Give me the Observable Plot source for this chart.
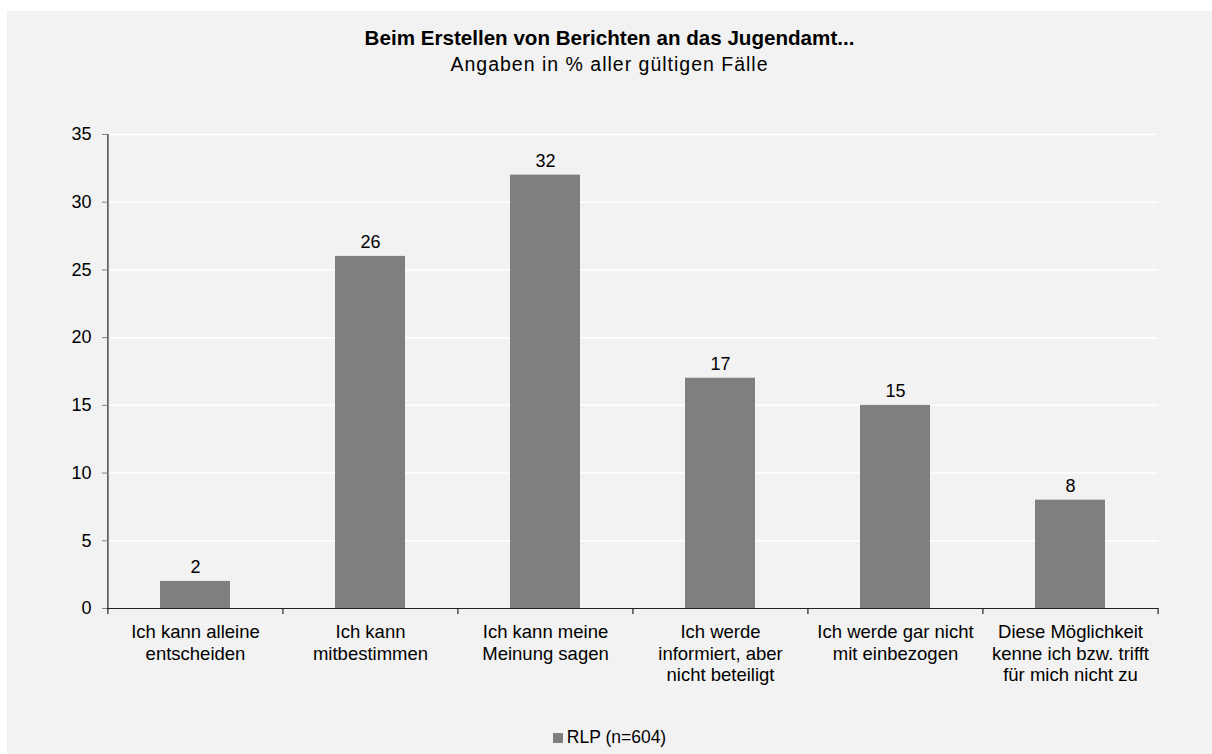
<!DOCTYPE html>
<html>
<head>
<meta charset="utf-8">
<script src="https://cdn.jsdelivr.net/npm/d3@7"></script>
<script src="https://cdn.jsdelivr.net/npm/@observablehq/plot@0.6"></script>
<style>
  html, body { margin: 0; padding: 0; background: #ffffff; }
  #panel { position: absolute; left: 7px; top: 11px; width: 1205px; height: 743px; background: #f2f2f2; font-family: "Liberation Sans", Arial, sans-serif; color: #000; }
  #title { position: absolute; left: 0; width: 1205px; top: 16px; text-align: center; font-family: "Liberation Sans", sans-serif; font-weight: bold; font-size: 20.6px; line-height: 22px; }
  #subtitle { position: absolute; left: 0; width: 1205px; top: 42px; text-align: center; font-size: 19.5px; letter-spacing: 1px; line-height: 22px; }
  #chart { position: absolute; left: 0; top: 79px; }
  #legend { position: absolute; left: 0; width: 1205px; top: 715px; text-align: center; font-size: 17.5px; line-height: 22px; }
  #legend .sw { display: inline-block; width: 10px; height: 10px; background: #7f7f7f; margin-right: 4px; vertical-align: 0px; }
</style>
</head>
<body>
<div id="panel">
  <div id="title">Beim Erstellen von Berichten an das Jugendamt...</div>
  <div id="subtitle">Angaben in % aller gültigen Fälle</div>
  <div id="chart"></div>
  <div id="legend"><span class="sw"></span>RLP (n=604)</div>
</div>
<script>
const categories = [
  "Ich kann alleine\nentscheiden",
  "Ich kann\nmitbestimmen",
  "Ich kann meine\nMeinung sagen",
  "Ich werde\ninformiert, aber\nnicht beteiligt",
  "Ich werde gar nicht\nmit einbezogen",
  "Diese Möglichkeit\nkenne ich bzw. trifft\nfür mich nicht zu"
];
const values = [2, 26, 32, 17, 15, 8];
const yTicks = [0, 5, 10, 15, 20, 25, 30, 35];
const seriesName = "RLP (n=604)";

const data = categories.map((c, i) => ({category: c, value: values[i]}));

const W = 1205, H = 600, mL = 100, mR = 54, mT = 44, mB = 82;
const step = (W - mL - mR) / categories.length;

const chart = Plot.plot({
  width: W,
  height: H,
  marginLeft: mL,
  marginRight: mR,
  marginTop: mT,
  marginBottom: mB,
  style: {background: "transparent", fontFamily: "'Liberation Sans', Arial, sans-serif", color: "#000"},
  x: {domain: categories, paddingInner: 0.6, paddingOuter: 0.3, label: null},
  y: {domain: [0, 35], label: null},
  marks: [
    Plot.gridY(yTicks.filter(d => d > 0), {stroke: "#ffffff", strokeOpacity: 1, strokeWidth: 1.5}),
    Plot.barY(data, {x: "category", y: "value", fill: "#7f7f7f"}),
    Plot.text(data, {x: "category", y: "value", text: d => String(d.value), lineAnchor: "bottom", dy: -8, fontSize: 18, fill: "#000"}),
    Plot.axisY({ticks: yTicks, tickSize: 5, tickPadding: 11, fontSize: 18, stroke: "#808080", strokeOpacity: 1, label: null}),
    Plot.axisX({tickSize: 0, tickPadding: 14, fontSize: 18.5, lineHeight: 1.17, label: null}),
    Plot.ruleY([0], {stroke: "#222", strokeWidth: 1.2}),
    Plot.ruleX([categories[0]], {x: d => d, dx: -step / 2, y1: 0, y2: 35, stroke: "#222", strokeWidth: 1.2}),
    Plot.ruleX(categories, {x: d => d, dx: -step / 2, y1: 0, y2: 0, insetBottom: -6, stroke: "#222", strokeWidth: 1.2}),
    Plot.ruleX([categories[categories.length - 1]], {x: d => d, dx: step / 2, y1: 0, y2: 0, insetBottom: -6, stroke: "#222", strokeWidth: 1.2})
  ]
});
document.getElementById("chart").appendChild(chart);
</script>
</body>
</html>
